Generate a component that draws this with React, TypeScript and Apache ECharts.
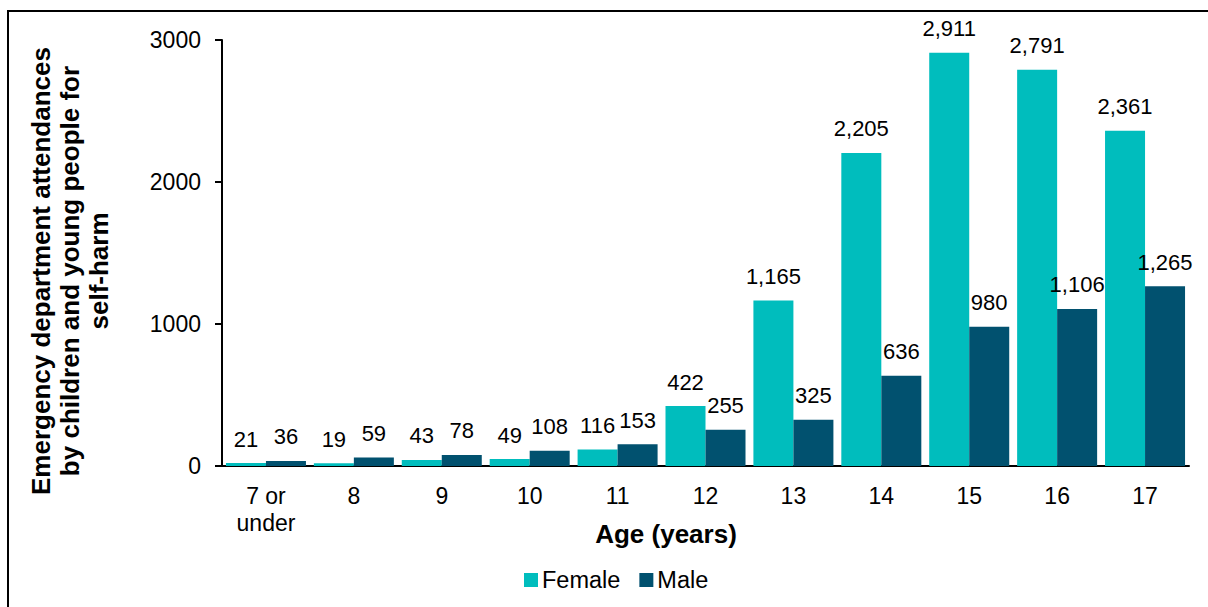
import React, { useEffect, useRef } from "react";
import * as echarts from "echarts";

const categories = ["7 or\nunder", "8", "9", "10", "11", "12", "13", "14", "15", "16", "17"];
const femaleValues = [21, 19, 43, 49, 116, 422, 1165, 2205, 2911, 2791, 2361];
const maleValues = [36, 59, 78, 108, 153, 255, 325, 636, 980, 1106, 1265];
const yTicks = [0, 1000, 2000, 3000];

const FONT = "'Liberation Sans', Arial, sans-serif";
const FEMALE_COLOR = "#00BDBD";
const MALE_COLOR = "#01516F";

export default function App() {
  const ref = useRef<HTMLDivElement>(null);
  useEffect(() => {
    if (!ref.current) return;
    const chart = echarts.init(ref.current, null, { renderer: "svg" });
    const labelCfg = {
      show: true,
      position: "top" as const,
      distance: 13,
      color: "#000",
      fontFamily: FONT,
      fontSize: 22,
      formatter: (p: any) => Number(p.value).toLocaleString("en-US"),
    };
    chart.setOption({
      animation: false,
      backgroundColor: "#fff",
      textStyle: { fontFamily: FONT, color: "#000" },
      grid: { left: 222, right: 19, top: 40, bottom: 141, containLabel: false },
      legend: {
        data: ["Female", "Male"],
        left: 524,
        top: 568,
        padding: 0,
        itemWidth: 14,
        itemHeight: 14,
        itemGap: 19,
        icon: "rect",
        textStyle: { fontFamily: FONT, fontSize: 23.5, color: "#000", padding: [0, 0, 0, -1] },
      },
      xAxis: {
        type: "category",
        data: categories,
        axisLine: { show: true, lineStyle: { color: "#000", width: 2 } },
        axisTick: { show: false },
        axisLabel: {
          color: "#000",
          fontFamily: FONT,
          fontSize: 23,
          lineHeight: 27,
          margin: 16,
          interval: 0,
        },
      },
      yAxis: {
        type: "value",
        min: yTicks[0],
        max: yTicks[yTicks.length - 1],
        interval: 1000,
        splitLine: { show: false },
        axisLine: { show: true, lineStyle: { color: "#000", width: 2 } },
        axisTick: { show: true, length: 7, lineStyle: { color: "#000", width: 2 } },
        axisLabel: { color: "#000", fontFamily: FONT, fontSize: 23, margin: 21, formatter: (v: number) => String(v) },
      },
      series: [
        {
          name: "Female",
          type: "bar",
          data: femaleValues,
          barWidth: 40,
          barGap: "0%",
          itemStyle: { color: FEMALE_COLOR },
          label: labelCfg,
        },
        {
          name: "Male",
          type: "bar",
          data: maleValues,
          barWidth: 40,
          barGap: "0%",
          itemStyle: { color: MALE_COLOR },
          label: labelCfg,
        },
      ],
      graphic: [
        {
          type: "rect",
          shape: { x: 8, y: 11, width: 1400, height: 800 },
          style: { fill: "none", stroke: "#000", lineWidth: 2 },
          silent: true,
        },
        {
          type: "text",
          x: 70,
          y: 271,
          rotation: Math.PI / 2,
          style: {
            text: "Emergency department attendances\nby children and young people for\nself-harm",
            fontFamily: FONT,
            fontWeight: "bold",
            fontSize: 26,
            lineHeight: 29,
            fill: "#000",
            align: "center",
            verticalAlign: "middle",
          },
        },
        {
          type: "text",
          x: 666,
          y: 534,
          style: {
            text: "Age (years)",
            fontFamily: FONT,
            fontWeight: "bold",
            fontSize: 26,
            fill: "#000",
            align: "center",
            verticalAlign: "middle",
          },
        },
      ],
    });
    return () => chart.dispose();
  }, []);
  return (
    <div
      ref={ref}
      style={{ position: "absolute", left: 0, top: 0, width: 1208, height: 607 }}
    />
  );
}
